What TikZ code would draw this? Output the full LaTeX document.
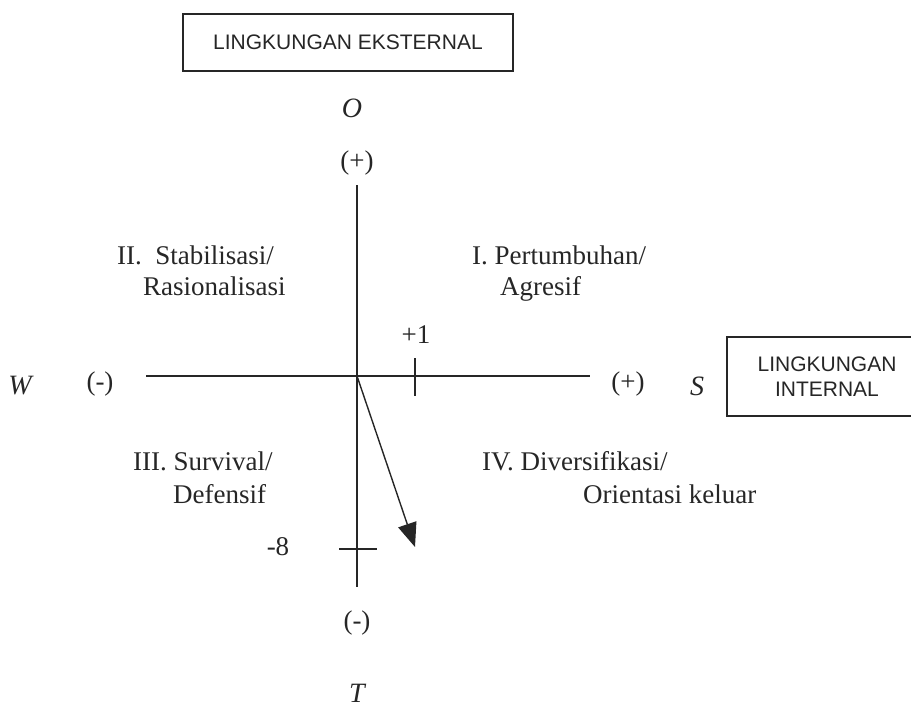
\documentclass[tikz,border=0pt]{standalone}
\usepackage{fontspec}
\setmainfont{Liberation Serif}
\newfontfamily\boxfont{Liberation Sans}
\usetikzlibrary{arrows.meta}
\tikzset{
  axisline/.style={line width=1.4pt, black!85},
  tickline/.style={line width=1.3pt, black!85},
  envbox/.style={draw, line width=1.2pt, black!85, minimum width=330pt, minimum height=57pt, font=\boxfont\fontsize{21}{25}\selectfont, align=center},
  lbl/.style={font=\fontsize{27}{32}\selectfont, inner sep=0pt, text=black!85},
  quad/.style={lbl, anchor=base west},
  axname/.style={lbl, font=\itshape\fontsize{28}{32}\selectfont}
}
\begin{document}
\begin{tikzpicture}[x=1pt,y=-1pt]
\useasboundingbox (0,0) rectangle (911,713);
% environment boxes
\node[envbox] (ext) at (348,42.5) {LINGKUNGAN EKSTERNAL};
\node[envbox, minimum width=200pt, minimum height=79pt] (int) at (827,376.5) {LINGKUNGAN\\INTERNAL};
% axes
\coordinate (top) at (357,185);
\coordinate (bot) at (357,587);
\coordinate (left) at (146,376);
\coordinate (right) at (590,376);
\coordinate (orig) at (357,376);
\draw[axisline] (top) -- (bot);
\draw[axisline] (left) -- (right);
% ticks
\coordinate (p1a) at (415,358);
\coordinate (p1b) at (415,396);
\draw[tickline] (p1a) -- (p1b);
\coordinate (m8a) at (339,549);
\coordinate (m8b) at (377,549);
\draw[tickline] (m8a) -- (m8b);
% strategy vector
\coordinate (tip) at (415,547);
\draw[axisline, -{Triangle[length=24pt, width=19pt]}] (orig) -- (tip);
% axis labels
\node[axname] (O) at (352,108) {O};
\node[lbl] (oplus) at (357,163) {(+)};
\node[lbl] (tminus) at (357,623) {(-)};
\node[axname] (T) at (357,693) {T};
\node[axname] (W) at (20,386) {W};
\node[lbl] (wminus) at (100,384) {(-)};
\node[lbl] (splus) at (628,384) {(+)};
\node[axname] (S) at (697,386) {S};
\node[lbl] (one) at (416,335) {+1};
\node[lbl] (eight) at (278,547) {-8};
% quadrant labels
\node[quad] (q2a) at (117,264) {II.\ \ Stabilisasi/};
\node[quad] (q2b) at (143,295) {Rasionalisasi};
\node[quad] (q1a) at (472,264) {I. Pertumbuhan/};
\node[quad] (q1b) at (500,295) {Agresif};
\node[quad] (q3a) at (133,470) {III. Survival/};
\node[quad] (q3b) at (173,503) {Defensif};
\node[quad] (q4a) at (482,470) {IV. Diversifikasi/};
\node[quad] (q4b) at (583,503) {Orientasi keluar};
\end{tikzpicture}
\end{document}
